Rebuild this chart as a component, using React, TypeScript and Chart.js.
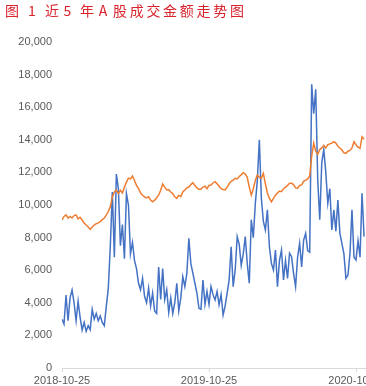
import React, { useEffect, useRef } from 'react';
import { Chart, registerables } from 'chart.js';

Chart.register(...registerables);

// ---- data ----
const titleText = '图 1 近5年A股成交金额走势图';
const dayStep = 5; // one sample every 5 calendar days, from 2018-10-25
const xTickDays = [0, 365, 731];
const xTickLabels = ['2018-10-25', '2019-10-25', '2020-10-25'];
const yMin = 0;
const yMax = 20000;
const yStep = 2000;

// A股成交金额 (blue)
const turnover = [
  2990, 2700, 4480, 2900, 4300, 4790, 4000, 2900, 4100, 3100,
  2330, 2800, 2250, 2600, 2350, 3600, 3000, 3350, 2900, 3200,
  2800, 2600, 3800, 4900, 7500, 10800, 6800, 11900, 11000, 7500,
  8800, 6700, 10700, 10000, 7000, 7700, 6600, 6100, 5200, 4800,
  5500, 4400, 4000, 4900, 3800, 4600, 3500, 3350, 6200, 4200,
  6100, 4200, 4800, 3400, 4300, 3350, 4000, 5200, 3500, 4300,
  5600, 5000, 5800, 7960, 6400, 5800, 5200, 4600, 3660, 3600,
  5400, 3900, 4700, 3900, 5000, 4500, 4170, 4700, 3870, 4500,
  3250, 3800, 4600, 5400, 7440, 4990, 6000, 8060, 7600, 6300,
  7000, 8060, 6400, 5200, 9100, 8000, 10100, 11500, 14000, 10400,
  9000, 8470, 9700, 7440, 6420, 6010, 7240, 4990, 6600, 7240,
  5400, 6600, 5500, 7040, 6830, 5800, 4990, 6800, 7650, 6200,
  7850, 8260, 7200, 7100, 17400, 15600, 17100, 11500, 9100, 12600,
  13400, 12000, 10100, 11000, 8470, 9700, 8400, 10300, 8260, 7650,
  7000, 5500, 5700, 7000, 9700, 6800, 6630, 7800, 6800, 10720,
  8060,
];

// index line (orange)
const indexLine = [
  9080, 9300, 9390, 9200, 9300, 9200, 9350, 9390, 9150, 9250,
  9080, 8900, 8770, 8650, 8510, 8650, 8770, 8850, 8900, 8980,
  9100, 9200, 9390, 9600, 9900, 10500, 10800, 10920, 10700, 10900,
  10740, 11100, 11400, 11650, 11600, 11780, 11500, 11200, 11000, 10740,
  10600, 10500, 10430, 10500, 10300, 10200, 10300, 10450, 10600, 10900,
  11290, 11100, 10920, 10950, 10800, 10700, 10500, 10410, 10600, 10510,
  10800, 10920, 11050, 11100, 11250, 11370, 11200, 11050, 10960, 10960,
  11100, 11150, 11000, 11200, 11230, 11350, 11430, 11300, 11150, 11000,
  10950, 10920, 11100, 11300, 11450, 11530, 11640, 11600, 11750, 11850,
  11980, 11900, 11700, 11100, 10610, 11000, 11500, 11840, 11700, 11640,
  11940, 11300, 10740, 10400, 10200, 10400, 10600, 10740, 10850, 10820,
  11000, 11100, 11200, 11330, 11330, 11250, 11050, 11020, 11200, 11230,
  11450, 11530, 11600, 11780, 13000, 13800, 13300, 13100, 13400, 13500,
  13650, 13500, 13700, 13750, 13800, 13880, 13800, 13600, 13500, 13370,
  13200, 13170, 13300, 13350, 13500, 13880, 13700, 13550, 13480, 14190,
  14030,
];

// ---- layout constants ----
const CANVAS_W = 400;
const CANVAS_H = 386;
const PLOT_LEFT = 62;
const PLOT_TOP = 42;
const PAD_RIGHT = 20;
const X_AXIS_H = 18;
const PX_PER_YEAR = 147;

const titleGlyphs: { ch: string; left: number }[] = [
  { ch: '图', left: 5 },
  { ch: ' ', left: 20 },
  { ch: '1', left: 28 },
  { ch: ' ', left: 37 },
  { ch: '近', left: 45 },
  { ch: '5', left: 63.6 },
  { ch: '年', left: 80 },
  { ch: 'A', left: 98.7 },
  { ch: '股', left: 113 },
  { ch: '成', left: 129.7 },
  { ch: '交', left: 146.4 },
  { ch: '金', left: 163.1 },
  { ch: '额', left: 179.8 },
  { ch: '走', left: 196.5 },
  { ch: '势', left: 213.2 },
  { ch: '图', left: 229.9 },
];

export default function App() {
  const canvasRef = useRef<HTMLCanvasElement | null>(null);

  useEffect(() => {
    const canvas = canvasRef.current;
    if (!canvas) return;
    const toPoints = (arr: number[]) => arr.map((v, i) => ({ x: i * dayStep, y: v }));
    const plotWidth = CANVAS_W - PAD_RIGHT - PLOT_LEFT;
    const xMax = (plotWidth * 365) / PX_PER_YEAR;
    const tickFont = { family: '"Liberation Sans", Arial, sans-serif', size: 11 };

    const chart = new Chart(canvas, {
      type: 'line',
      data: {
        datasets: [
          {
            label: '指数',
            data: toPoints(indexLine),
            borderColor: '#ED7D31',
            backgroundColor: '#ED7D31',
            borderWidth: 1.5,
            pointRadius: 0,
            tension: 0,
            fill: false,
          },
          {
            label: 'A股成交金额',
            data: toPoints(turnover),
            borderColor: '#4472C4',
            backgroundColor: '#4472C4',
            borderWidth: 1.5,
            pointRadius: 0,
            tension: 0,
            fill: false,
          },
        ],
      },
      options: {
        responsive: false,
        maintainAspectRatio: false,
        animation: false,
        layout: { padding: { top: PLOT_TOP, right: PAD_RIGHT, bottom: 0, left: 0 } },
        plugins: {
          legend: { display: false },
          tooltip: { enabled: false },
          title: { display: false },
        },
        scales: {
          x: {
            type: 'linear',
            min: 0,
            max: xMax,
            afterBuildTicks: (scale: any) => {
              scale.ticks = xTickDays.map((v) => ({ value: v }));
            },
            afterFit: (scale: any) => {
              scale.height = X_AXIS_H;
            },
            ticks: {
              autoSkip: false,
              maxRotation: 0,
              minRotation: 0,
              padding: 2,
              color: '#595959',
              font: tickFont,
              callback: (value: any) => {
                const idx = xTickDays.indexOf(Number(value));
                return idx >= 0 ? xTickLabels[idx] : '';
              },
            },
            grid: {
              display: true,
              drawOnChartArea: false,
              drawTicks: true,
              tickLength: 4,
              color: '#d9d9d9',
            },
            border: { display: true, color: '#d9d9d9' },
          },
          y: {
            min: yMin,
            max: yMax,
            afterFit: (scale: any) => {
              scale.width = PLOT_LEFT;
            },
            ticks: {
              stepSize: yStep,
              padding: 10,
              color: '#595959',
              font: tickFont,
              callback: (value: any) => Number(value).toLocaleString('en-US'),
            },
            grid: { display: false, drawTicks: false },
            border: { display: false },
          },
        },
      },
    } as any);

    return () => chart.destroy();
  }, []);

  return (
    <div
      style={{
        position: 'absolute',
        left: 0,
        top: 0,
        width: 366,
        height: 386,
        overflow: 'hidden',
        background: '#ffffff',
      }}
    >
      <div
        aria-label={titleText}
        style={{
          position: 'absolute',
          left: 0,
          top: 3,
          height: 16,
          width: 366,
          fontFamily: '"Noto Sans CJK SC", sans-serif',
          fontSize: 14,
          lineHeight: '14px',
          color: '#d9232d',
          whiteSpace: 'pre',
          zIndex: 2,
        }}
      >
        {titleGlyphs.map((g, i) => (
          <span key={i} style={{ position: 'absolute', left: g.left, top: 0 }}>
            {g.ch}
          </span>
        ))}
      </div>
      <canvas
        ref={canvasRef}
        width={CANVAS_W}
        height={CANVAS_H}
        style={{ position: 'absolute', left: 0, top: 0, width: CANVAS_W, height: CANVAS_H, display: 'block' }}
      />
    </div>
  );
}
